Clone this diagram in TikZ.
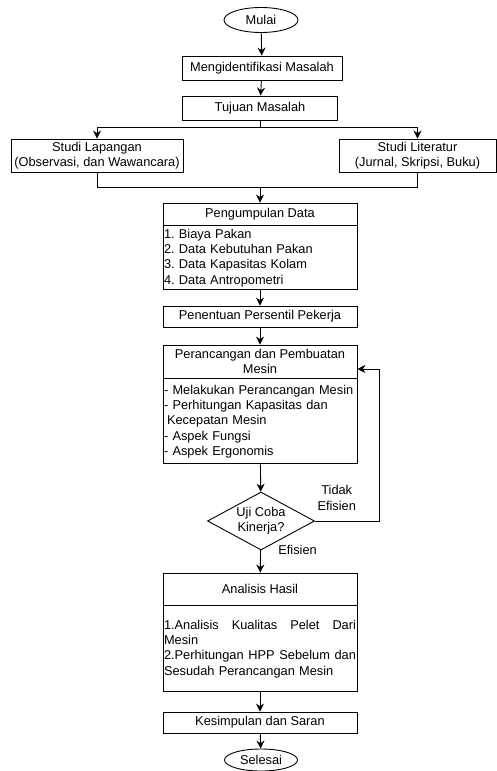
\documentclass[tikz,border=0pt]{standalone}
\usepackage{fontspec}
\setmainfont{Liberation Sans}
\usetikzlibrary{shapes.geometric,arrows.meta,positioning}

\begin{document}
\begin{tikzpicture}[x=1pt,y=-1pt,>={Stealth[length=8pt,width=8pt]},line width=0.9pt,
  every node/.style={font=\fontsize{12.8}{15.3}\selectfont\frenchspacing},
  term/.style={draw,ellipse,minimum width=74pt,minimum height=25pt,inner sep=0pt},
  box/.style={draw,minimum width=194pt,minimum height=21pt,inner xsep=2pt,inner ysep=0pt,align=center},
  list/.style={draw,anchor=north,minimum width=194pt,text width=192pt,inner xsep=1pt,inner ysep=0pt,align=left},
  decide/.style={draw,diamond,aspect=1.85,minimum width=107pt,minimum height=58pt,inner sep=0pt,align=center}]
\useasboundingbox (0,0) rectangle (497,771);
\node[term] (mulai) at (261,20) {Mulai};
\node[box,minimum width=160pt,minimum height=24pt] (ident) at (262,68) {Mengidentifikasi Masalah};
\node[box,minimum width=155pt,minimum height=24pt] (tujuan) at (260,108) {Tujuan Masalah};
\node[box,minimum width=172pt,minimum height=33pt] (lap) at (97,155.5) {Studi Lapangan\\(Observasi, dan Wawancara)};
\node[box,minimum width=157pt,minimum height=33pt] (lit) at (417.5,155.5) {Studi Literatur\\(Jurnal, Skripsi, Buku)};
\node[box,minimum height=22pt] (pd) at (260,214) {Pengumpulan Data};
\node[list,minimum height=64pt] (pdl) at (pd.south) {1. Biaya Pakan\\2. Data Kebutuhan Pakan\\3. Data Kapasitas Kolam\\4. Data Antropometri};
\node[box] (pp) at (260,316.5) {Penentuan Persentil Pekerja};
\node[box,minimum height=33pt] (prc) at (260,361.5) {Perancangan dan Pembuatan\\Mesin};
\node[list,minimum height=85pt] (prcl) at (prc.south) {- Melakukan Perancangan Mesin\\- Perhitungan Kapasitas dan\\\hspace*{3pt}Kecepatan Mesin\\- Aspek Fungsi\\- Aspek Ergonomis};
\node[decide] (uji) at (261,521) {Uji Coba\\Kinerja?};
\node[box,minimum height=32pt] (ah) at (260,589) {Analisis Hasil};
\node[list,minimum height=86pt] (ahl) at (ah.south) {1.Analisis\hfill Kualitas\hfill Pelet\hfill Dari\\Mesin\\2.Perhitungan\hfill HPP\hfill Sebelum\hfill dan\\Sesudah Perancangan Mesin};
\node[box] (kes) at (260,722.5) {Kesimpulan dan Saran};
\node[term,minimum width=73pt,minimum height=22pt] (sel) at (261,760) {Selesai};
% alur utama
\coordinate (br) at (260,127);
\coordinate (mg) at (260,187);
\coordinate (back) at (379,369);
\draw[->] (mulai)--(ident);
\draw[->] (ident)--(tujuan);
\draw (tujuan)--(br);
\draw[->] (br)-|(lap);
\draw[->] (br)-|(lit);
\draw (lap)|-(mg);
\draw (lit)|-(mg);
\draw[->] (mg)--(pd);
\draw[->] (pdl)--(pp);
\draw[->] (pp)--(prc);
\draw[->] (prcl)--(uji);
\draw[->] (uji)--(ah) node[at start,right=14pt] {Efisien};
\draw[->] (uji)-|(back) node[pos=0.17,above=7pt,align=center] {Tidak\\Efisien} --(back-|prc.east);
\draw[->] (ahl)--(kes);
\draw[->] (kes)--(sel);
\end{tikzpicture}
\end{document}
